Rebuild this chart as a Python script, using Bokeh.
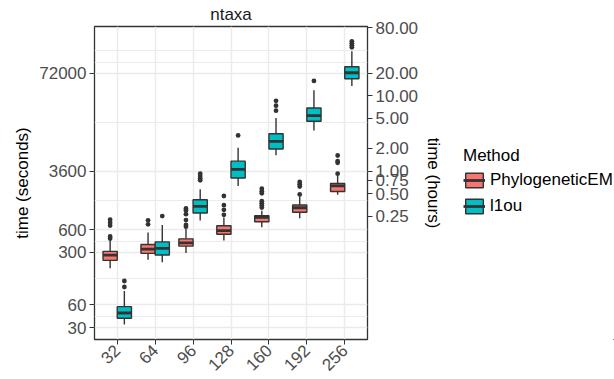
import math
from bokeh.plotting import figure
from bokeh.layouts import row
from bokeh.models import (Range1d, LogScale, LogAxis, FixedTicker, PrintfTickFormatter,
                          ColumnDataSource, Legend, LegendItem)
from bokeh.embed import file_html
from bokeh.resources import INLINE

# ---------------- data (seconds) ----------------
ntaxa = ["32", "64", "96", "128", "160", "192", "256"]
methods = ["PhylogeneticEM", "l1ou"]
colors = ["#F8766D", "#00BFC4"]

pem_low = [185, 240, 294, 430, 645, 851, 1739]
pem_q1 = [235, 291, 363, 522, 764, 1020, 1928]
pem_med = [276, 331, 401, 582, 873, 1173, 2284]
pem_q3 = [309, 382, 453, 677, 916, 1273, 2455]
pem_high = [449, 550, 613, 873, 1066, 1671, 3090]
pem_out = [[815, 743, 679, 487, 458], [798, 706], [1146, 1089, 964, 805, 692, 657],
           [1679, 1267, 1099, 944], [2100, 1936, 1823, 1429, 1345, 1267, 1182],
           [2577, 2404, 2243, 1762], [5786, 4870, 4640, 3326]]

l1ou_low = [33, 222, 792, 2285, 5830, 12420, 48500]
l1ou_q1 = [40, 276, 1000, 2910, 7050, 16480, 60500]
l1ou_med = [47, 339, 1225, 3790, 8900, 19580, 72600]
l1ou_q3 = [57, 413, 1495, 4870, 11240, 24700, 87100]
l1ou_high = [92, 692, 2065, 7310, 18200, 42650, 140000]
l1ou_out = [[125, 104], [908], [3326, 3090, 2884, 2714], [10700],
            [30800, 26500, 22800], [56500], [189700, 178400, 167900, 158000]]

y_ticks_s = [30, 60, 300, 600, 3600, 72000]
minor_grid_s = [42.4, 134, 424, 1470, 16100, 99000, 144000]
y_ticks_h = [0.25, 0.5, 0.75, 1, 2, 5, 10, 20, 80]
y_lo, y_hi = 20.9, 298500

stats = [
    (pem_low, pem_q1, pem_med, pem_q3, pem_high, pem_out),
    (l1ou_low, l1ou_q1, l1ou_med, l1ou_q3, l1ou_high, l1ou_out),
]

FONT = "Liberation Sans"
TICK_COL = "#4D4D4D"
DARK = "#333333"

p = figure(width=446, height=379, x_range=Range1d(0.4, 7.6), y_range=Range1d(y_lo, y_hi),
           y_axis_type="log", output_backend="svg", toolbar_location=None,
           min_border_left=94, min_border_right=76, min_border_top=25, min_border_bottom=38)
p.background_fill_color = "white"
p.border_fill_color = "white"
p.outline_line_color = DARK
p.outline_line_width = 1.3

p.title.text = "ntaxa"
p.title.align = "center"
p.title.text_font = FONT
p.title.text_font_size = "17px"
p.title.text_font_style = "normal"
p.title.text_color = "#1A1A1A"
p.title.standoff = 5

# x axis
xax = p.xaxis[0]
xax.ticker = FixedTicker(ticks=list(range(1, len(ntaxa) + 1)))
xax.major_label_overrides = {i + 1: lab for i, lab in enumerate(ntaxa)}
xax.major_label_orientation = math.pi / 4
xax.major_label_text_font = FONT
xax.major_label_text_font_size = "17px"
xax.major_label_text_color = TICK_COL
xax.major_label_standoff = 3
xax.axis_line_color = None
xax.major_tick_line_color = DARK
xax.major_tick_out = 5
xax.major_tick_in = 0
xax.minor_tick_line_color = None
p.xgrid.grid_line_color = "#EBEBEB"
p.xgrid.grid_line_width = 1.4

# left y axis (seconds)
yax = p.yaxis[0]
yax.ticker = FixedTicker(ticks=y_ticks_s, minor_ticks=minor_grid_s)
yax.formatter = PrintfTickFormatter(format="%d")
yax.axis_line_color = None
yax.major_tick_line_color = DARK
yax.major_tick_out = 5
yax.major_tick_in = 0
yax.minor_tick_line_color = None
yax.major_label_text_font = FONT
yax.major_label_text_font_size = "17px"
yax.major_label_text_color = TICK_COL
yax.major_label_standoff = 3
yax.axis_label = "time (seconds)"
yax.axis_label_text_font = FONT
yax.axis_label_text_font_size = "17px"
yax.axis_label_text_font_style = "normal"
yax.axis_label_text_color = "black"
yax.axis_label_standoff = 4
p.ygrid.grid_line_color = "#EBEBEB"
p.ygrid.grid_line_width = 1.4
p.ygrid.minor_grid_line_color = "#EBEBEB"
p.ygrid.minor_grid_line_width = 1.0

# secondary axis (hours)
p.extra_y_ranges = {"hours": Range1d(y_lo / 3600.0, y_hi / 3600.0)}
p.extra_y_scales = {"hours": LogScale()}
rax = LogAxis(y_range_name="hours", ticker=FixedTicker(ticks=y_ticks_h),
              formatter=PrintfTickFormatter(format="%.2f"))
rax.axis_line_color = None
rax.major_tick_line_color = DARK
rax.major_tick_out = 5
rax.major_tick_in = 0
rax.minor_tick_line_color = None
rax.major_label_text_font = FONT
rax.major_label_text_font_size = "17px"
rax.major_label_text_color = TICK_COL
rax.major_label_standoff = 3
rax.axis_label = "time (hours)"
rax.axis_label_text_font = FONT
rax.axis_label_text_font_size = "17px"
rax.axis_label_text_font_style = "normal"
rax.axis_label_text_color = "black"
rax.axis_label_standoff = 3
p.add_layout(rax, "right")

# boxes
offsets = [-0.1875, 0.1875]
bw = 0.375
sources = []
for k, (lo, q1, med, q3, hi, outs) in enumerate(stats):
    xs = [i + 1 + offsets[k] for i in range(len(ntaxa))]
    src = ColumnDataSource(dict(x=xs, xl=[x - bw / 2 for x in xs], xr=[x + bw / 2 for x in xs],
                                lo=lo, q1=q1, med=med, q3=q3, hi=hi))
    sources.append(src)
    p.segment(x0="x", y0="q3", x1="x", y1="hi", source=src, line_color=DARK, line_width=1.4)
    p.segment(x0="x", y0="lo", x1="x", y1="q1", source=src, line_color=DARK, line_width=1.4)
    p.vbar(x="x", width=bw, bottom="q1", top="q3", source=src,
           fill_color=colors[k], line_color=DARK, line_width=1.4)
    p.segment(x0="xl", y0="med", x1="xr", y1="med", source=src,
              line_color=DARK, line_width=2.8, line_cap="butt")
    ox, oy = [], []
    for i, vals in enumerate(outs):
        for v in vals:
            ox.append(xs[i])
            oy.append(v)
    p.scatter(x=ox, y=oy, size=4.8, fill_color=DARK, line_color=None)

# ---------------- legend panel ----------------
# its ranges lie away from every data value, so its glyphs only appear in the legend keys
lg = figure(width=168, height=379, x_range=Range1d(-1, 0), y_range=Range1d(1e6, 2e6),
            output_backend="svg", toolbar_location=None,
            x_axis_location=None, y_axis_location=None,
            min_border_left=0, min_border_right=0, min_border_top=0, min_border_bottom=0)
lg.outline_line_color = None
lg.background_fill_color = "white"
lg.border_fill_color = "white"
lg.xgrid.visible = False
lg.ygrid.visible = False
items = []
for k in range(len(methods)):
    r_box = lg.vbar(x="x", top="q3", bottom="q1", width=bw, source=sources[k],
                    fill_color=colors[k], line_color=DARK, line_width=1.4)
    r_med = lg.segment(x0="xl", y0="med", x1="xr", y1="med", source=sources[k],
                       line_color=DARK, line_width=2.8, line_cap="butt")
    items.append(LegendItem(label=methods[k], renderers=[r_box, r_med]))

legend = Legend(items=items, title="Method", location=(17, 123))
legend.title_text_font = FONT
legend.title_text_font_size = "17px"
legend.title_text_font_style = "normal"
legend.title_text_color = "black"
legend.title_standoff = 4
legend.label_text_font = FONT
legend.label_text_font_size = "17px"
legend.label_text_color = "black"
legend.glyph_width = 22
legend.glyph_height = 18
legend.label_height = 20
legend.label_standoff = 5
legend.spacing = 6
legend.padding = 0
legend.margin = 0
legend.border_line_color = None
legend.background_fill_alpha = 0
lg.add_layout(legend)

layout = row(p, lg)
open("out.html", "w").write(file_html(layout, INLINE))
